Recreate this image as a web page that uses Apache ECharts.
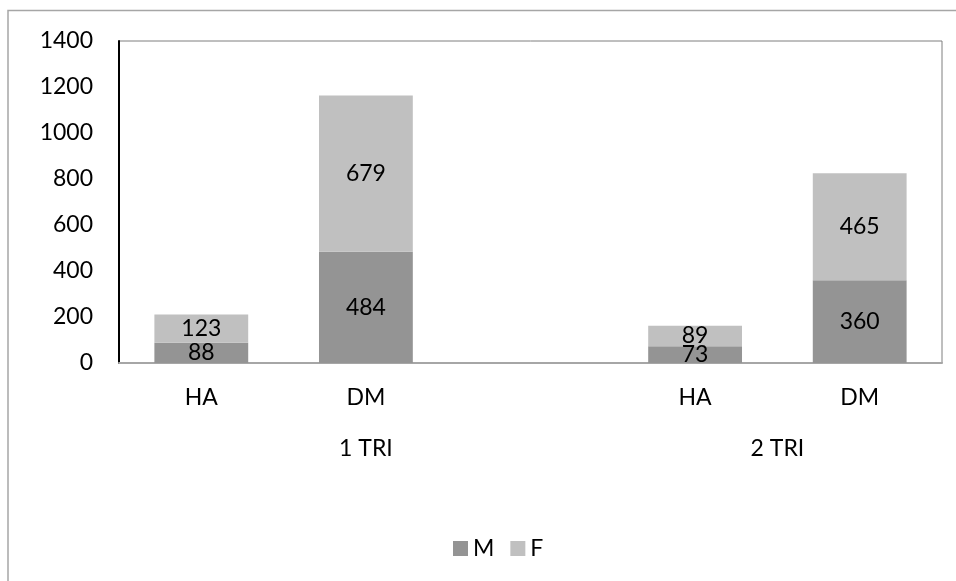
<!DOCTYPE html>
<html><head><meta charset="utf-8">
<script src="https://cdn.jsdelivr.net/npm/echarts@6/dist/echarts.min.js"></script>
<style>html,body{margin:0;padding:0;background:#fff;}#c{width:956px;height:581px;}</style>
</head><body><div id="c"></div>
<script>
// Categories (empty slot separates the two groups)
const categories = ['HA', 'DM', '', 'HA', 'DM'];
const groupLabels = ['1 TRI', '2 TRI'];
const groupSizes = [3, 2];
const seriesNames = ['M', 'F'];
const valuesM = [88, 484, null, 73, 360];
const valuesF = [123, 679, null, 89, 465];
const yTicks = [0, 200, 400, 600, 800, 1000, 1200, 1400];

// group centres in category units
const groupCenters = {};
let start = 0;
groupSizes.forEach((s, i) => { groupCenters[start + s / 2] = groupLabels[i]; start += s; });

const FONT = 'Lato';
const FS = 23;
const chart = echarts.init(document.getElementById('c'));
chart.setOption({
  animation: false,
  textStyle: { fontFamily: FONT },
  graphic: [{
    type: 'rect', shape: { x: 8, y: 10.5, width: 2000, height: 2000 },
    style: { fill: 'none', stroke: '#a6a6a6', lineWidth: 1.5 }, silent: true, z: -10
  }],
  grid: { left: 119, top: 41, right: 14, bottom: 218, show: true, borderColor: '#7f7f7f', borderWidth: 1 },
  legend: {
    data: seriesNames, left: 448, top: 532, itemWidth: 15, itemHeight: 15, itemGap: 16,
    icon: 'rect', textStyle: { fontSize: FS, color: '#000', fontFamily: FONT }
  },
  xAxis: [{
    type: 'category', data: categories, position: 'bottom',
    axisLine: { show: true, lineStyle: { color: '#a6a6a6', width: 2 } },
    axisTick: { show: false },
    axisLabel: { color: '#000', fontSize: FS, margin: 23, fontFamily: FONT }
  }, {
    type: 'value', min: 0, max: categories.length, interval: 0.5, position: 'bottom',
    axisLine: { show: false }, axisTick: { show: false }, splitLine: { show: false },
    axisLabel: {
      color: '#000', fontSize: FS, margin: 74, fontFamily: FONT, showMinLabel: true, showMaxLabel: true,
      formatter: v => groupCenters[v] || ''
    }
  }],
  yAxis: {
    type: 'value', min: yTicks[0], max: yTicks[yTicks.length - 1], interval: yTicks[1] - yTicks[0],
    axisLine: { show: true, lineStyle: { color: '#000', width: 2 } },
    axisTick: { show: false }, splitLine: { show: false },
    axisLabel: { color: '#000', fontSize: FS, margin: 26, fontFamily: FONT, formatter: v => String(v) }
  },
  series: [{
    name: seriesNames[0], type: 'bar', stack: 'a', data: valuesM, xAxisIndex: 0,
    barCategoryGap: '43%', itemStyle: { color: '#949494' },
    label: { show: true, position: 'inside', color: '#000', fontSize: FS, fontFamily: FONT }
  }, {
    name: seriesNames[1], type: 'bar', stack: 'a', data: valuesF, xAxisIndex: 0,
    barCategoryGap: '43%', itemStyle: { color: '#c0c0c0' },
    label: { show: true, position: 'inside', color: '#000', fontSize: FS, fontFamily: FONT }
  }]
});
</script></body></html>
